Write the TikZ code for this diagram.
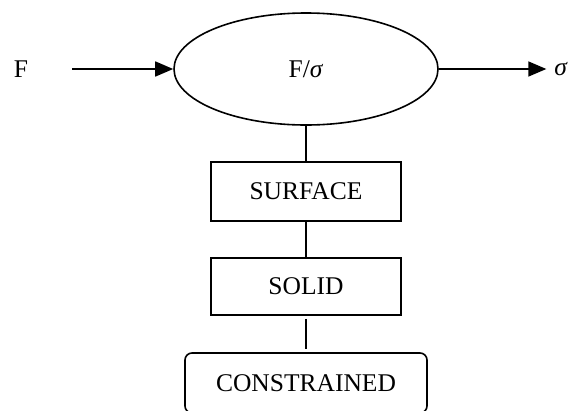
\documentclass[tikz,border=0pt]{standalone}
\usepackage{fontspec}
\setmainfont{Liberation Serif}
\usepackage{tikz}
\usetikzlibrary{calc,shapes.geometric,arrows.meta}

\begin{document}
\begin{tikzpicture}[x=1pt,y=-1pt,
  every node/.style={font=\fontsize{25.5}{28}\selectfont},
  box/.style={draw,line width=1.6pt,minimum width=190pt,inner sep=0pt},
  link/.style={line width=1.6pt},
  flow/.style={line width=1.6pt,-{Triangle[length=18pt,width=15pt]}}]
\useasboundingbox (0,0) rectangle (570,410);
\clip (0,0) rectangle (570,410);

\node[draw,ellipse,line width=1.6pt,minimum width=264pt,minimum height=112pt,
  inner sep=0pt] (core) at (306,69) {F/\textit{σ}};
\node (inF) at (21,69) {F};
\coordinate (fstart) at (72,69);
\node[inner xsep=8pt,outer sep=0pt] (sig) at (561,69) {\textit{σ}};

\node[box,minimum height=59pt] (surf) at (306,191.5) {SURFACE};
\node[box,minimum height=57pt] (solid) at (306,286.5) {SOLID};
\node[box,minimum width=242pt,minimum height=60pt,rounded corners=7pt] (constr) at (306,383) {CONSTRAINED};

% arrows in and out
\draw[flow] (fstart) -- (core.west);
\draw[flow] (core.east) -- (sig.west);

\draw[link] (core.south) -- (surf.north);
\draw[link] (surf.south) -- (solid.north);
\draw[link,shorten <=3pt,shorten >=3pt] (solid.south) -- (constr.north);
\end{tikzpicture}
\end{document}
